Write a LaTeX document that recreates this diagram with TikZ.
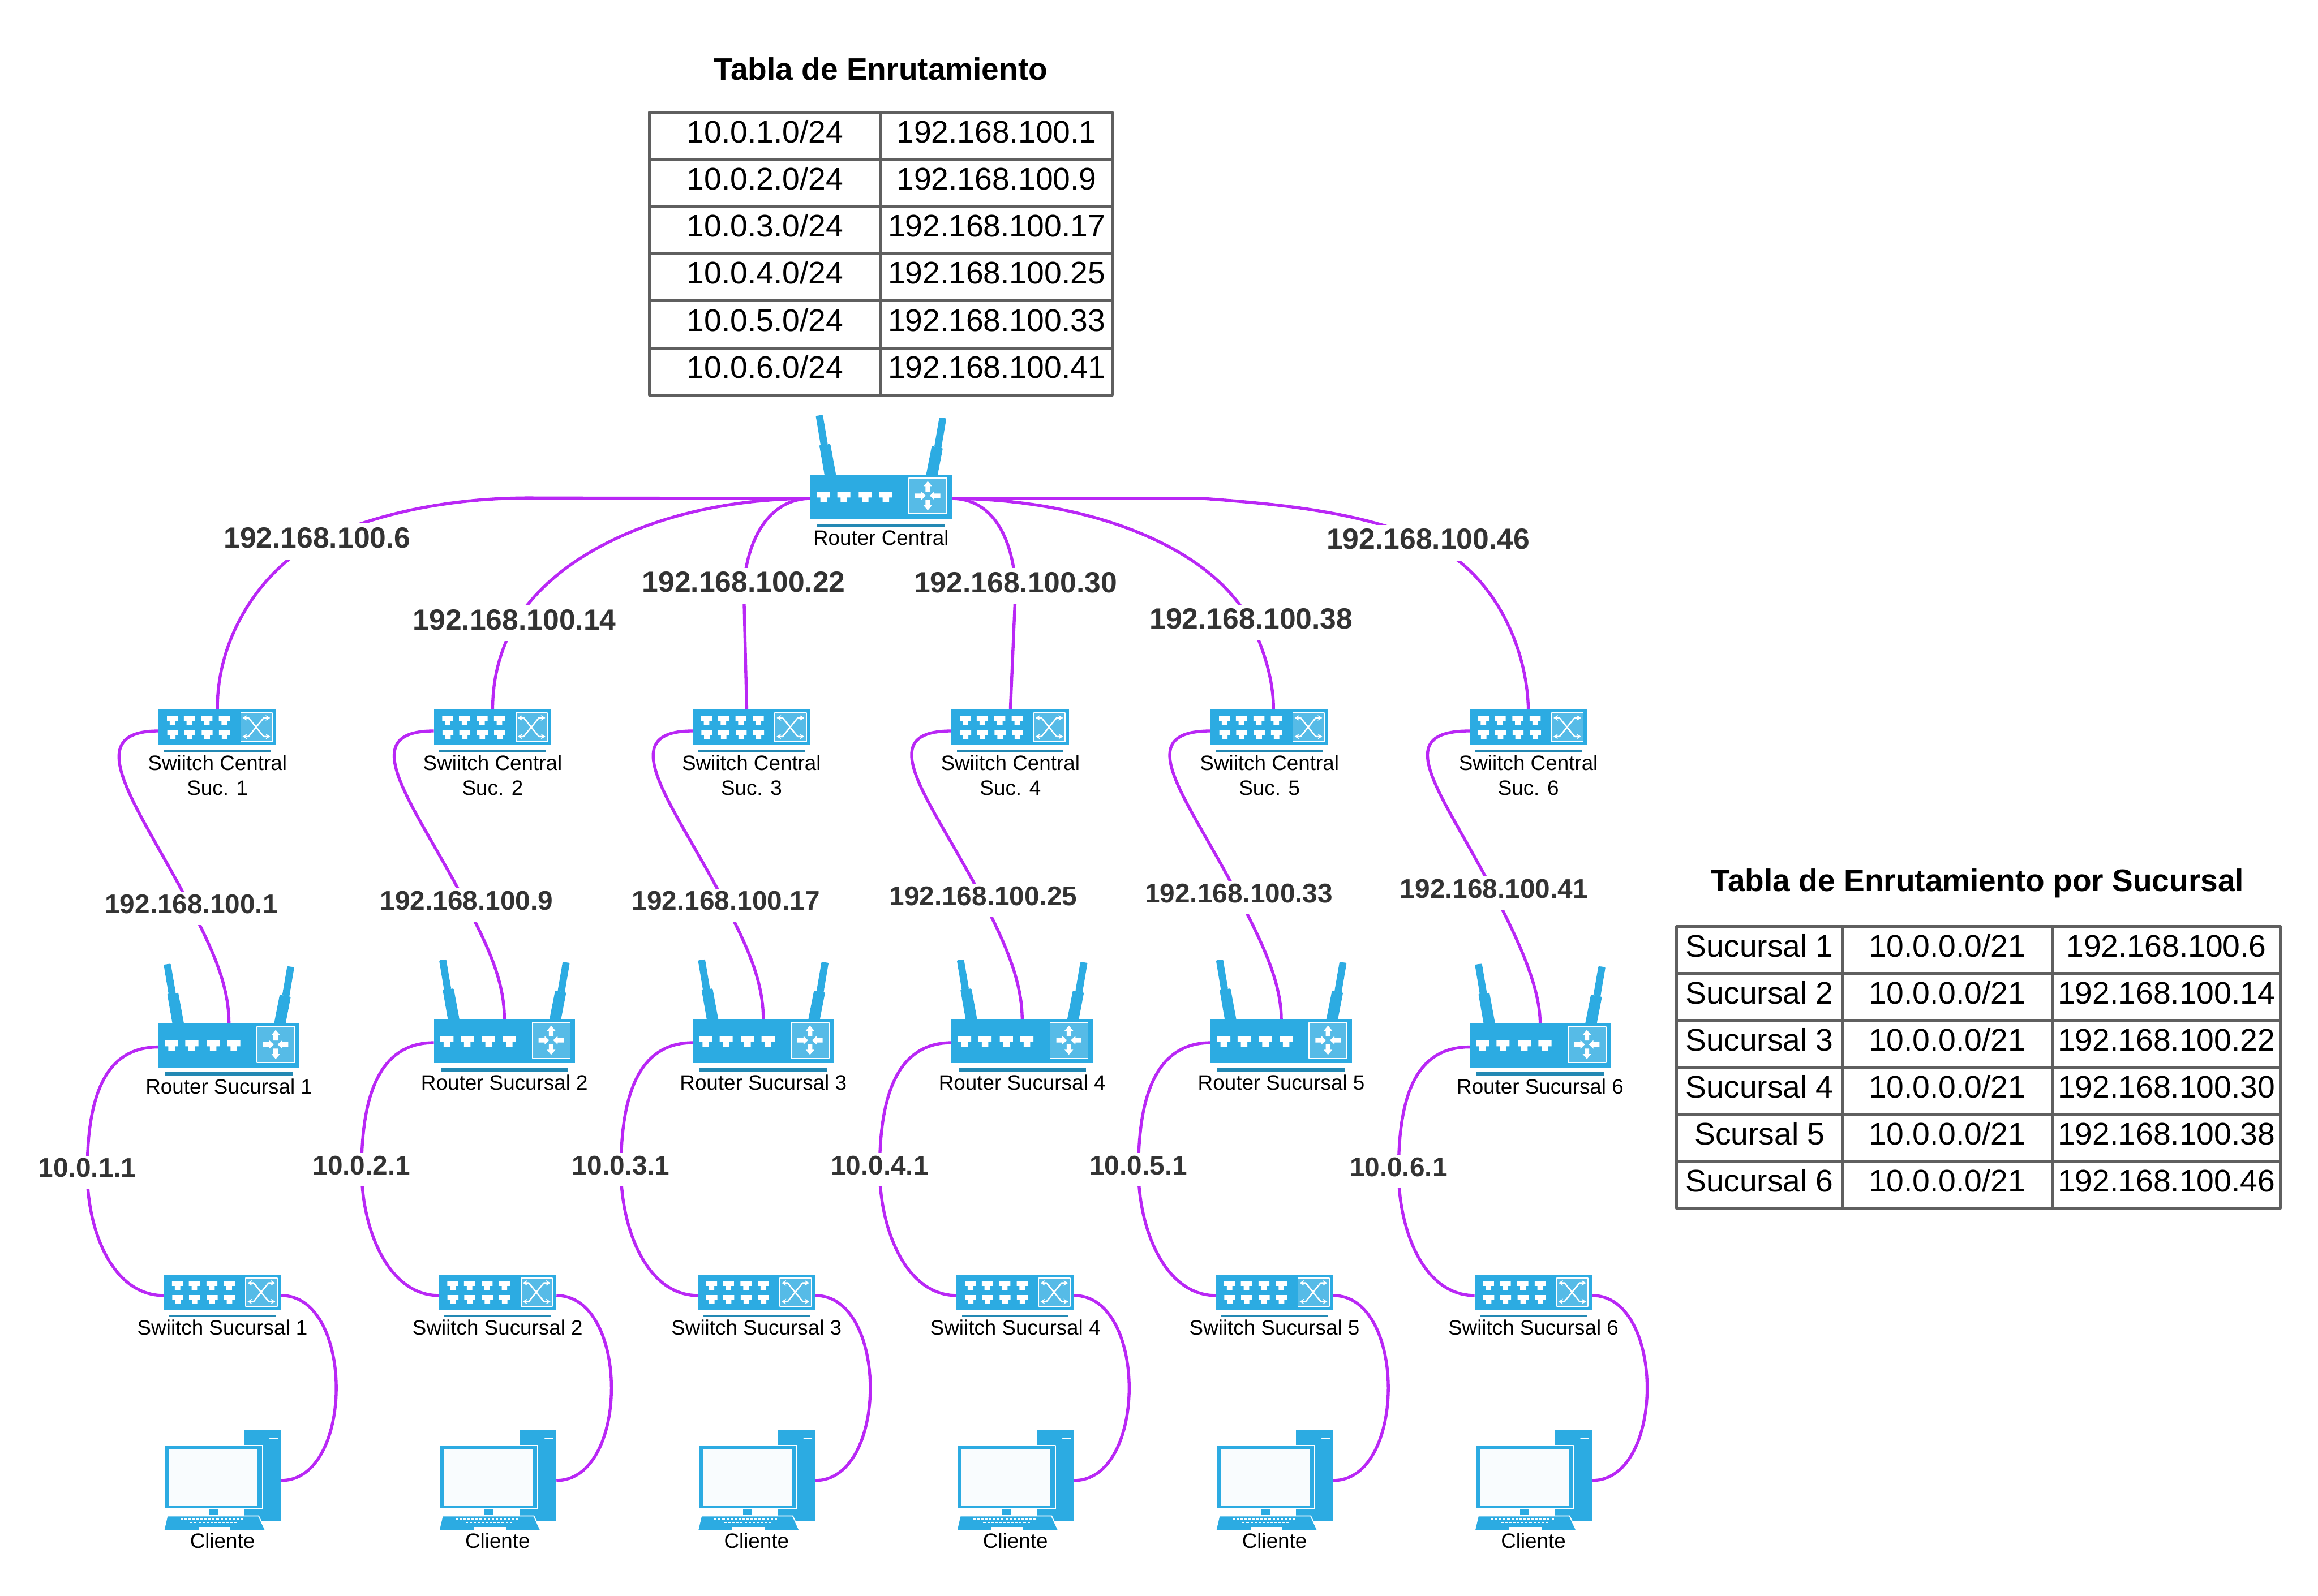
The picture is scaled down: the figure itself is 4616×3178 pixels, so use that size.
\documentclass[tikz,border=0pt]{standalone}
\usepackage{fontspec}
\setmainfont{Liberation Sans}
\usetikzlibrary{arrows.meta,backgrounds}

\definecolor{devblue}{HTML}{2CABE2}
\definecolor{panelblue}{HTML}{56BBE7}
\definecolor{barblue}{HTML}{2389B4}
\definecolor{linkviolet}{HTML}{B927F5}
\definecolor{tabgray}{HTML}{5F5F5F}
\definecolor{iptext}{HTML}{333333}

\tikzset{
  routerbox/.style={fill=devblue,inner sep=0,outer sep=0,minimum width=2.81cm,minimum height=.87cm},
  switchbox/.style={fill=devblue,inner sep=0,outer sep=0,minimum width=2.34cm,minimum height=.71cm},
  clientbox/.style={inner sep=0,outer sep=0,minimum width=2.34cm,minimum height=2.01cm},
  devlabel/.style={inner sep=0,anchor=base,align=center,font=\fontsize{11.8}{14.2}\selectfont},
  iplabel/.style={fill=white,text=iptext,inner sep=0,anchor=base,text height=.48cm,text depth=.23cm,
    font=\fontsize{16.55}{19}\selectfont\bfseries},
  iplabelsm/.style={iplabel,text height=.43cm,font=\fontsize{15.3}{18}\selectfont\bfseries},
  tabcell/.style={draw=tabgray,line width=.055cm,inner sep=0,outer sep=0,minimum height=.938cm,
    text height=.6cm,text depth=.338cm,font=\fontsize{17.7}{20}\selectfont},
  tabtitle/.style={inner sep=0,anchor=base,font=\fontsize{17.65}{20}\selectfont\bfseries},
  link/.style={draw=linkviolet,line width=.06cm},
  xarrow/.style={draw=white,line width=.028cm,line join=round,
    arrows={Stealth[length=.09cm,width=.11cm]-Stealth[length=.09cm,width=.11cm]}}
}

% one network port, white on the device
\newcommand{\porticon}[3]{%
  \fill[white,shift={(#1,#2)},xscale=#3,yscale=#3] (-13,-10.5) -- (13,-10.5) -- (13,1) -- (6.5,1)
    -- (6.5,10.5) -- (-6.5,10.5) -- (-6.5,1) -- (-13,1) -- cycle;}

% name, x, y, label
\newcommand{\routerdev}[4]{%
  \node[routerbox] (#1) at (#2,#3) {};
  \begin{scope}[shift={(#2,#3)}]
    % antennas
    \fill[devblue,rounded corners=.015cm] (-130,-161) -- (-116,-163) -- (-106,-104) -- (-120,-101) -- cycle;
    \fill[devblue,rounded corners=.015cm] (-123,-103) -- (-101,-105) -- (-89,-40) -- (-112,-40) -- cycle;
    \fill[devblue,rounded corners=.015cm] (116,-158) -- (130,-156) -- (120,-97) -- (106,-100) -- cycle;
    \fill[devblue,rounded corners=.015cm] (101,-101) -- (123,-97) -- (112,-40) -- (89,-40) -- cycle;
    \fill[barblue] (-127,53.5) rectangle (127,60.5);
    \foreach \px in {-114.5,-74,-31.5,9.5}{\porticon{\px}{.5}{1}}
    % panel with four arrows
    \draw[white,fill=panelblue,line width=.02cm] (55.5,-37) rectangle (131,34);
    \begin{scope}[shift={(93,-2)}]
      \fill[white] (0,-29) -- (8.5,-19) -- (4.5,-19) -- (4.5,-8) -- (-4.5,-8) -- (-4.5,-19) -- (-8.5,-19) -- cycle;
      \fill[white,yscale=-1] (0,-29) -- (8.5,-19) -- (4.5,-19) -- (4.5,-8) -- (-4.5,-8) -- (-4.5,-19) -- (-8.5,-19) -- cycle;
      \fill[white] (-4,0) -- (-13,-8.5) -- (-13,-4.5) -- (-25,-4.5) -- (-25,4.5) -- (-13,4.5) -- (-13,8.5) -- cycle;
      \fill[white,xscale=-1] (-4,0) -- (-13,-8.5) -- (-13,-4.5) -- (-25,-4.5) -- (-25,4.5) -- (-13,4.5) -- (-13,8.5) -- cycle;
    \end{scope}
    \node[devlabel] (#1lb) at (0,96.7) {#4};
  \end{scope}
}

% name, x, y, label
\newcommand{\switchdev}[4]{%
  \node[switchbox] (#1) at (#2,#3) {};
  \begin{scope}[shift={(#2,#3)}]
    \fill[barblue] (-106,44) rectangle (106,49);
    \foreach \px in {-89.5,-56,-21,13.5}{
      \porticon{\px}{-14}{.84}
      \porticon{\px+.5}{14}{.84}
    }
    % panel with the crossing arrows
    \draw[white,fill=panelblue,line width=.02cm] (46.5,-29) rectangle (109,28);
    \draw[xarrow] (50,-19) -- (62,-19) -- (92,18) -- (105,18);
    \draw[xarrow] (50,18) -- (62,18) -- (92,-19) -- (105,-19);
    \node[devlabel,anchor=north] (#1lb) at (0,54) {#4};
  \end{scope}
}

% name, x, y, label
\newcommand{\clientdev}[4]{%
  \node[clientbox] (#1) at (#2,#3) {};
  \begin{scope}[shift={(#2,#3)}]
    % tower
    \fill[devblue] (43,-100) rectangle (117,81.5);
    \draw[white,line width=.02cm] (94,-90.5) -- (110,-90.5) (94,-83.5) -- (110,-83.5);
    % monitor
    \draw[white,fill=devblue,line width=.02cm] (-116,-69.5) rectangle (80,56.5);
    \fill[white!97!devblue] (-107,-62.5) rectangle (70,50.5);
    \fill[devblue] (-27,57.5) rectangle (-9,68.5);
    % keyboard
    \draw[white,fill=devblue,line width=.02cm] (-110,70.5) -- (72,70.5) -- (86,100.5) -- (-117,100.5) -- cycle;
    \foreach \kx in {-84,-76,...,40}{\fill[white] (\kx,75) rectangle +(4.6,3);}
    \foreach \kx in {-64,-56,...,24}{\fill[white] (\kx,82) rectangle +(4.6,3);}
    \fill[white] (-48,93) rectangle (16,99);
    \node[devlabel] (#1lb) at (0,135) {#4};
  \end{scope}
}

\begin{document}
\begin{tikzpicture}[x=.01cm,y=-.01cm,line cap=round,line join=round]
  \useasboundingbox (0,0) rectangle (4616,3178);

  % routing table of the central router
  \node[tabtitle] (titlea) at (1754,159) {Tabla de Enrutamiento};
  \foreach \n/\gw in {1/1,2/9,3/17,4/25,5/33,6/41}{
    \node[tabcell,minimum width=4.61cm] (taba\n) at (1523.5,{224+93.83*(\n-.5)}) {10.0.\n.0/24};
    \node[tabcell,minimum width=4.61cm] (tabb\n) at (1984.5,{224+93.83*(\n-.5)}) {192.168.100.\gw};
  }

  % routing table of the branches
  \node[tabtitle] (titleb) at (3938,1775) {Tabla de Enrutamiento por Sucursal};
  \foreach \n/\suc/\gw in {1/Sucursal 1/6,2/Sucursal 2/14,3/Sucursal 3/22,4/Sucursal 4/30,5/Scursal 5/38,6/Sucursal 6/46}{
    \node[tabcell,minimum width=3.304cm] (tabc\n) at (3504,{1846+93.5*(\n-.5)}) {\suc};
    \node[tabcell,minimum width=4.18cm] (tabd\n) at (3878,{1846+93.5*(\n-.5)}) {10.0.0.0/21};
    \node[tabcell,minimum width=4.535cm] (tabe\n) at (4314,{1846+93.5*(\n-.5)}) {192.168.100.\gw};
  }

  % devices
  \routerdev{rc}{1754.5}{989.5}{Router Central}
  \foreach \n/\sx/\rx/\ry/\cx in {1/433/456/2082.5/443,2/981/1004.5/2074/991,3/1496.5/1520/2074/1506.5,
      4/2012/2035.5/2074/2022,5/2528/2551.5/2074/2538,6/3043.5/3067/2082.5/3053.5}{
    \switchdev{sc\n}{\sx}{1449}{Swiitch Central\\Suc. \n}
    \routerdev{r\n}{\rx}{\ry}{Router Sucursal \n}
    \switchdev{ss\n}{\cx}{2574.5}{Swiitch Sucursal \n}
    \clientdev{cl\n}{\cx}{2949}{Cliente}
  }

  % address labels on the links
  \foreach \n/\lx/\ly/\ip in {1/631.6/1091/192.168.100.6,2/1024.6/1254.3/192.168.100.14,3/1481/1179/192.168.100.22,
      4/2022.6/1180/192.168.100.30,5/2491.6/1253/192.168.100.38,6/2844/1094/192.168.100.46}{
    \node[iplabel] (ia\n) at (\lx,\ly) {\ip};
  }
  \foreach \n/\lx/\ly/\ip in {1/381/1819.6/192.168.100.1,2/929/1812.6/192.168.100.9,3/1445.5/1813/192.168.100.17,
      4/1958/1804/192.168.100.25,5/2467/1798/192.168.100.33,6/2975/1789/192.168.100.41}{
    \node[iplabelsm] (ib\n) at (\lx,\ly) {\ip};
  }
  \foreach \n/\lx/\ly in {1/173.7/2345,2/720/2339.6,3/1236.5/2340,4/1751.7/2340,5/2267/2340,6/2785/2343}{
    \node[iplabelsm] (ic\n) at (\lx,\ly) {10.0.\n.1};
  }

  \coordinate (bend1) at (1072,992);
  \coordinate (bend6) at (2397,993);

  \begin{pgfonlayer}{background}
    % central router to the central switches
    \draw[link] ([yshift=-.035cm]rc.west) -- (bend1) .. controls (950,990) and (780,1007) .. (ia1.center)
      .. controls (531,1126) and (431,1260) .. (sc1.north);
    \draw[link] ([yshift=-.035cm]rc.west) .. controls (1350,993) and (1115,1090) .. (ia2.center)
      .. controls +(-20,40) and +(0,-80) .. (sc2.north);
    \draw[link] ([yshift=-.035cm]rc.west) .. controls (1540,993) and (1490,1060) .. (ia3.center)
      -- ([xshift=-.095cm]sc3.north);
    \draw[link] ([yshift=-.035cm]rc.east) .. controls (1970,993) and (2015,1060) .. (ia4.center)
      -- (sc4.north);
    \draw[link] ([yshift=-.035cm]rc.east) .. controls (2130,993) and (2400,1070) .. (ia5.center)
      .. controls +(18,40) and +(0,-70) .. ([xshift=.08cm]sc5.north);
    \draw[link] ([yshift=-.035cm]rc.east) -- (bend6) .. controls (2530,1003) and (2719,1018) .. (ia6.center)
      .. controls (2960,1130) and (3040,1270) .. (sc6.north);

    % one branch, top to bottom
    \foreach \n in {1,...,6}{
      \draw[link] ([yshift=-.07cm]sc\n.west) .. controls +(-166,0) and +(-99,-195) .. (ib\n.center)
        .. controls +(40,78) and +(0,-79) .. (r\n.north);
      \draw[link] ([yshift=-.03cm]r\n.west) .. controls +(-106,0) and +(0,-152) .. (ic\n.center)
        .. controls +(0,118) and +(-101,0) .. ([yshift=-.06cm]ss\n.west);
      \draw[link] ([yshift=-.06cm]ss\n.east) .. controls +(146,0) and +(146,0) .. (cl\n.east);
    }
  \end{pgfonlayer}
\end{tikzpicture}
\end{document}
